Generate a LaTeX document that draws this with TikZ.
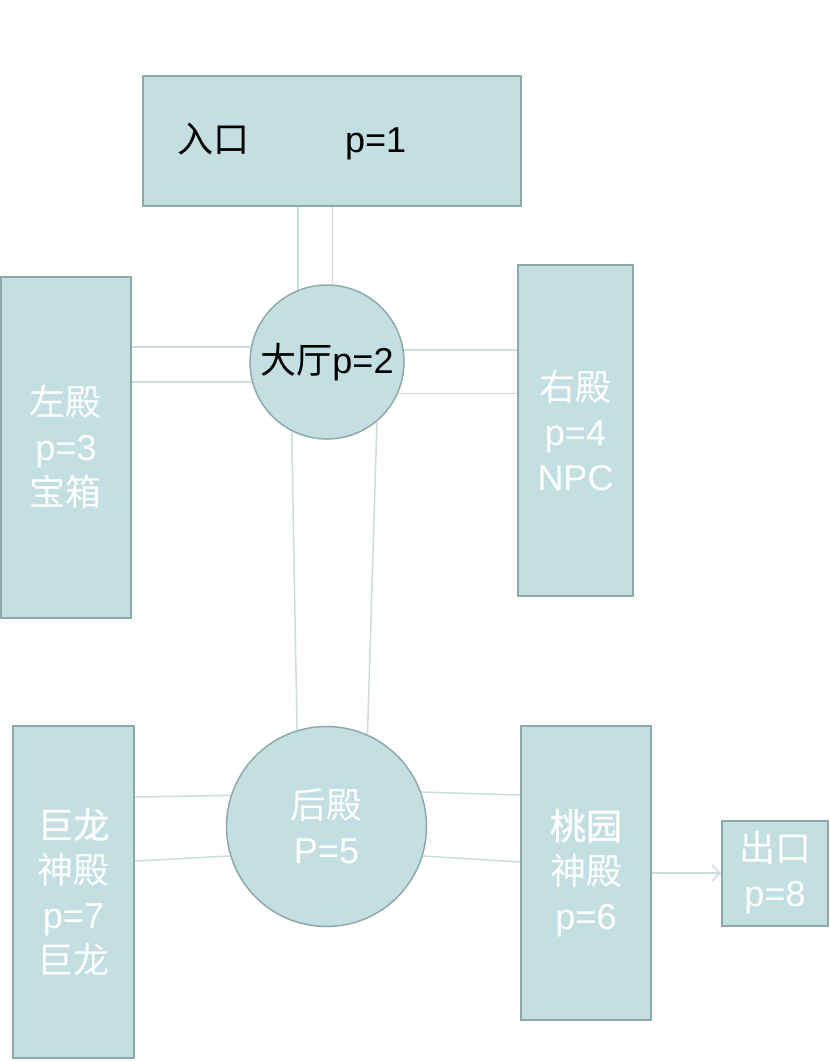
\documentclass[tikz,border=0pt]{standalone}
\usepackage{fontspec}
\setmainfont{Liberation Sans}
\newfontfamily\cjk{Noto Sans CJK SC}
\newfontfamily\cjkbold[FakeBold=1]{Noto Sans CJK SC}
\usetikzlibrary{arrows.meta,positioning}
\definecolor{roomfill}{HTML}{C3DFE2}
\definecolor{roomline}{HTML}{8FA9AB}
\definecolor{linkline}{HTML}{CCDBDC}
\tikzset{%
	room/.style     = {draw=roomline, fill=roomfill, line width=2pt, rectangle, inner sep=0pt, align=center, text=white}, % Room
	hallnode/.style = {draw=roomline, fill=roomfill, line width=1.5pt, circle, inner sep=0pt, align=center}, % Hall
	link/.style     = {draw=linkline, line width=1.5pt}, % Passage
	arrow/.style    = {link, -{Straight Barb[length=8pt,width=16pt]}},
}

\begin{document}
\begin{tikzpicture}[x=1pt,y=-1pt,font=\fontsize{36}{45}\selectfont]
	\useasboundingbox (0,0) rectangle (830,1061);
	\node [room,text=black,minimum width=378pt,minimum height=130pt,text width=358pt,align=left] (entry) at (332,141) {\hspace*{24pt}{\cjk 入口}\hspace{96pt}p=1};
	\node [hallnode,minimum size=154pt] (hall) at (327,362) {{\cjk 大厅}p=2};
	\node [room,minimum width=130pt,minimum height=341pt] (left) at (66,447) {{\cjk 左殿}\\p=3\\{\cjk 宝箱}};
	\node [room,minimum width=115pt,minimum height=331pt] (right) at (575.5,430.5) {{\cjk 右殿}\\p=4\\NPC};
	\node [hallnode,text=white,minimum size=200pt] (back) at (326.5,826.5) {{\cjk 后殿}\\P=5};
	\node [room,minimum width=121pt,minimum height=332pt] (dragon) at (73.5,892) {{\cjkbold 巨龙}\\{\cjk 神殿}\\p=7\\{\cjk 巨龙}};
	\node [room,minimum width=130pt,minimum height=294pt] (taoyuan) at (586,873) {{\cjkbold 桃园}\\{\cjk 神殿}\\p=6};
	\node [room,minimum width=106pt,minimum height=105pt] (exit) [right of=taoyuan,node distance=189pt] {{\cjk 出口}\\p=8};
	
	\draw[link] (hall.112) -- (hall.112 |- entry.south);
	\draw[link] (hall.86) -- (hall.86 |- entry.south);
	\draw[link] (hall.169.5) -- (hall.169.5 -| left.east);
	\draw[link] (hall.195.8) -- (hall.195.8 -| left.east);
	\draw[link] (hall.9.7) -- (hall.9.7 -| right.west);
	\draw[link] (hall.336.3) -- (hall.336.3 -| right.west);
	\draw[link] (hall.243) -- (back.107);
	\draw[link] (hall.310) -- (back.66);
	\draw[link] (back.162) -- ([yshift=95pt]dragon.east);
	\draw[link] (back.197.5) -- ([yshift=31pt]dragon.east);
	\draw[link] (back.20) -- ([yshift=78pt]taoyuan.west);
	\draw[link] (back.343.4) -- ([yshift=11pt]taoyuan.west);
	\draw[arrow] (taoyuan) -- (exit);
\end{tikzpicture}
\end{document}
